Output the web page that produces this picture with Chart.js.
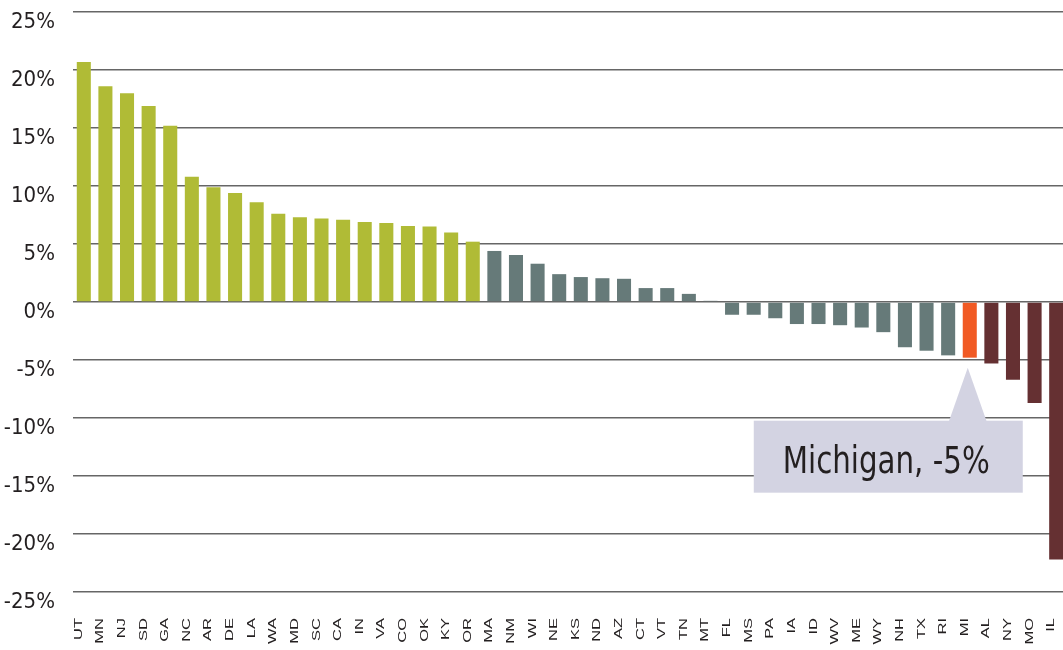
<!DOCTYPE html>
<html>
<head>
<meta charset="utf-8">
<script src="https://cdn.jsdelivr.net/npm/chart.js@4.4.1/dist/chart.umd.min.js"></script>
<style>
  html, body { margin: 0; padding: 0; overflow: hidden; background: #ffffff; }
  #wrap { position: relative; width: 1067px; height: 650px; }
</style>
</head>
<body>
<div id="wrap"><canvas id="c"></canvas></div>
<script>
// ---- data ----
const states = ['UT','MN','NJ','SD','GA','NC','AR','DE','LA','WA','MD','SC','CA','IN','VA','CO','OK','KY','OR',
  'MA','NM','WI','NE','KS','ND','AZ','CT','VT','TN','MT','FL','MS','PA','IA','ID','WV','ME','WY','NH','TX','RI',
  'MI','AL','NY','MO','IL'];
const changePct = [20.7, 18.6, 18.0, 16.9, 15.2, 10.8, 9.9, 9.4, 8.6, 7.6, 7.3, 7.2, 7.1, 6.9, 6.8, 6.55, 6.5, 6.0, 5.2,
  4.4, 4.05, 3.3, 2.4, 2.15, 2.05, 2.0, 1.2, 1.2, 0.7, 0.1, -1.1, -1.1, -1.4, -1.9, -1.9, -2.0, -2.2, -2.6, -3.9, -4.2, -4.6,
  -4.8, -5.3, -6.7, -8.7, -22.2];
const yTicks = [25, 20, 15, 10, 5, 0, -5, -10, -15, -20, -25];
const highlightState = 'MI';
const calloutText = 'Michigan, -5%';

// ---- styles ----
const GREEN = '#b0bb36', GRAY = '#667a79', ORANGE = '#f15a24', BROWN = '#653032';
const CALLOUT = '#d3d3e2';
const condensed = "'DejaVu Sans Condensed', 'Liberation Sans Narrow', sans-serif";

function barColor(ctx) {
  const i = ctx.dataIndex;
  const v = changePct[i];
  if (states[i] === highlightState) return ORANGE;
  if (v > 5) return GREEN;
  if (v < -5) return BROWN;
  return GRAY;
}

const xLabelPlugin = {
  id: 'xLabels',
  afterDraw(chart) {
    const ctx = chart.ctx, xs = chart.scales.x, area = chart.chartArea;
    ctx.save();
    ctx.fillStyle = '#231f20';
    ctx.font = "11px 'Liberation Sans', Arial, sans-serif";
    ctx.textAlign = 'right';
    ctx.textBaseline = 'middle';
    states.forEach((s, i) => {
      const x = xs.getPixelForValue(i) - 5;
      const y = area.bottom + 26;
      ctx.save();
      ctx.translate(x, y);
      ctx.rotate(-Math.PI / 2);
      ctx.scale(1.5, 1);
      ctx.fillText(s, 0, 0);
      ctx.restore();
    });
    ctx.restore();
  }
};

const calloutPlugin = {
  id: 'callout',
  afterDatasetsDraw(chart) {
    const idx = states.indexOf(highlightState);
    const meta = chart.getDatasetMeta(0);
    const bar = meta.data[idx];
    if (!bar) return;
    const ctx = chart.ctx;
    const apexX = bar.x - 2;
    const apexY = bar.y + 10;
    const baseY = apexY + 53;
    const boxW = 269, boxH = 72;
    const boxCx = bar.x - 81.5;
    ctx.save();
    ctx.fillStyle = CALLOUT;
    ctx.beginPath();
    ctx.moveTo(apexX, apexY);
    ctx.lineTo(apexX + 19, baseY + 1);
    ctx.lineTo(apexX - 19, baseY + 1);
    ctx.closePath();
    ctx.fill();
    ctx.fillRect(boxCx - boxW / 2, baseY, boxW, boxH);
    ctx.fillStyle = '#231f20';
    ctx.font = "37px " + condensed;
    ctx.textAlign = 'center';
    ctx.textBaseline = 'alphabetic';
    ctx.translate(boxCx - 2, baseY + 52);
    ctx.scale(0.88, 1);
    ctx.fillText(calloutText, 0, 0);
    ctx.restore();
  }
};

new Chart(document.getElementById('c'), {
  type: 'bar',
  data: {
    labels: states,
    datasets: [{
      data: changePct,
      backgroundColor: barColor,
      borderWidth: 0,
      barPercentage: 0.65,
      categoryPercentage: 1.0
    }]
  },
  options: {
    responsive: true,
    maintainAspectRatio: false,
    animation: false,
    devicePixelRatio: 1,
    layout: { padding: { top: 0, left: 0, right: 0, bottom: 0 } },
    plugins: { legend: { display: false }, tooltip: { enabled: false } },
    scales: {
      x: {
        grid: { display: false },
        border: { display: false },
        ticks: { display: false },
        afterFit(scale) { scale.height = 58; }
      },
      y: {
        min: -25,
        max: 25,
        afterBuildTicks(scale) { scale.ticks = yTicks.map(v => ({ value: v })); },
        afterFit(scale) { scale.width = 73; scale.paddingTop = 12; },
        grid: { color: '#666666', lineWidth: 1.6, drawTicks: false },
        border: { display: false },
        ticks: {
          padding: 18,
          labelOffset: 10,
          color: '#231f20',
          font: { family: condensed, size: 22 },
          callback: v => v + '%'
        }
      }
    }
  },
  plugins: [xLabelPlugin, calloutPlugin]
});
</script>
</body>
</html>
